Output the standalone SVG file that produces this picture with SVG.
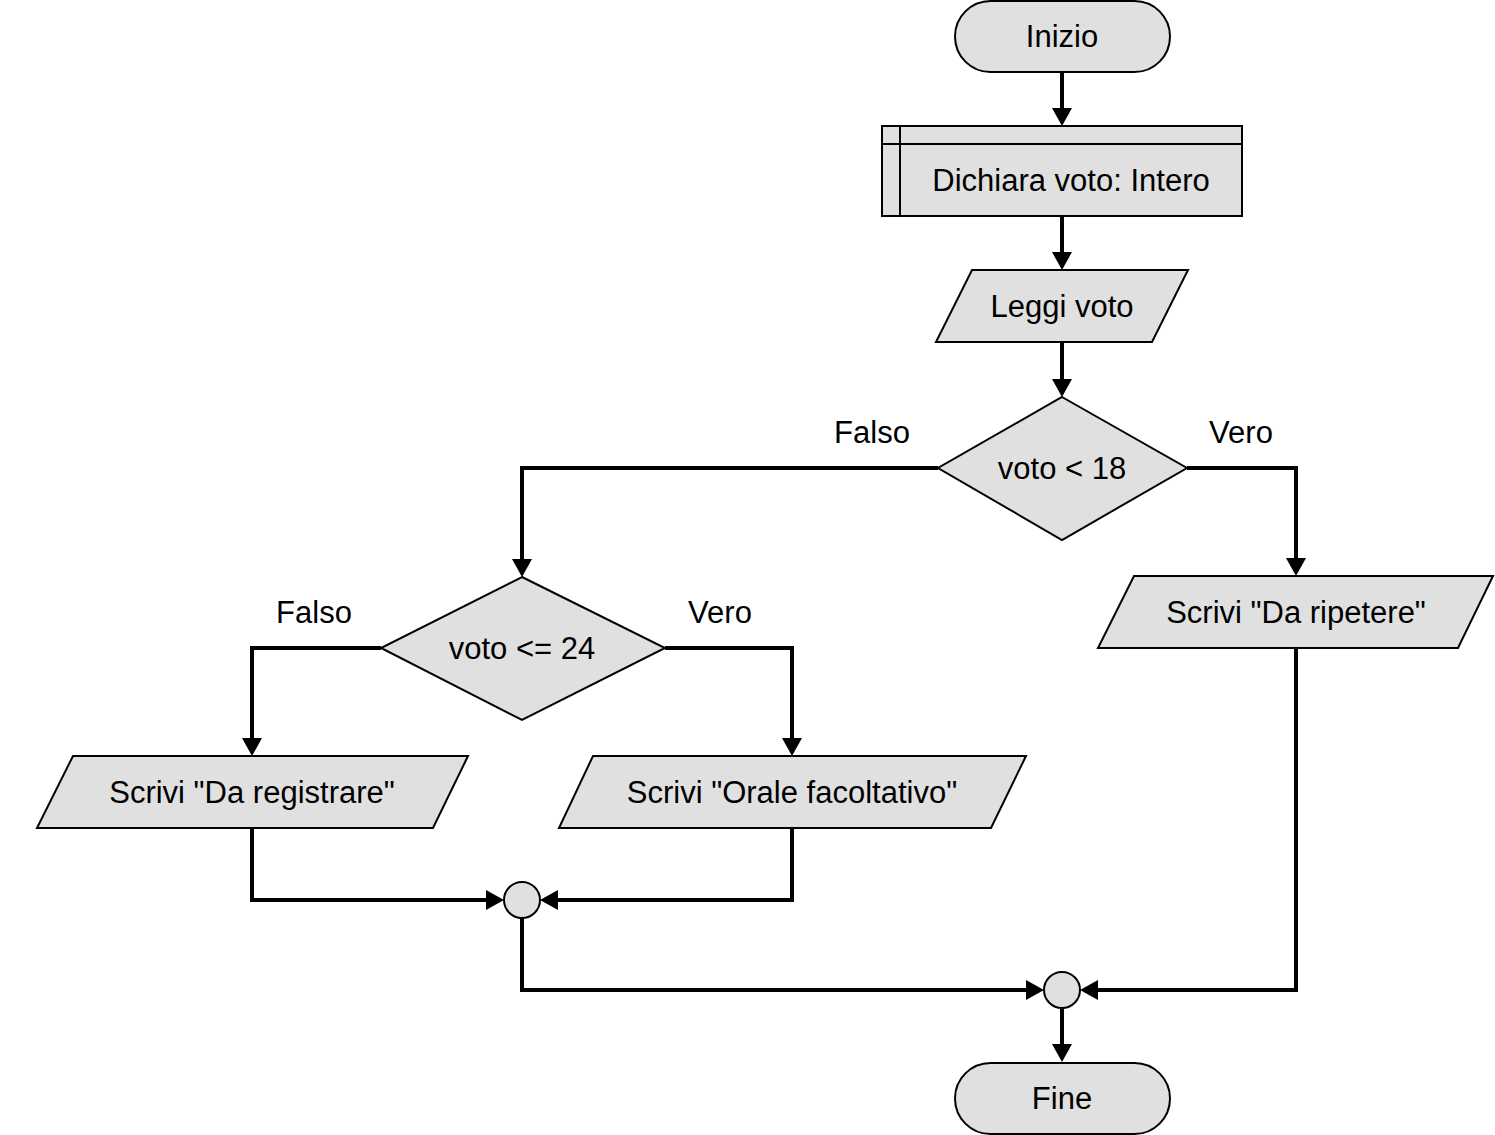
<svg xmlns="http://www.w3.org/2000/svg" width="1495" height="1135" viewBox="0 0 1495 1135">
<style>
.shape{fill:#e0e0e0;stroke:#000;stroke-width:2}
.inner{fill:none;stroke:#000;stroke-width:2}
.t{font-family:"Liberation Sans",Arial,sans-serif;font-size:31px;fill:#000;text-anchor:middle}
.conn{fill:none;stroke:#000;stroke-width:4;marker-end:url(#arr)}
.plain{fill:none;stroke:#000;stroke-width:4}
</style>
<defs>
<marker id="arr" markerUnits="userSpaceOnUse" markerWidth="18" markerHeight="20" refX="0" refY="10" orient="auto" overflow="visible">
<path d="M0,0 L18,10 L0,20 z" fill="#000"/>
</marker>
</defs>
<rect width="1495" height="1135" fill="#fff"/>
<g id="connectors">
<path class="conn" d="M1062,72 V108"/>
<path class="conn" d="M1062,216 V252"/>
<path class="conn" d="M1062,342 V379"/>
<path class="conn" d="M938,468 H522 V559"/>
<path class="conn" d="M1187,468 H1296 V558"/>
<path class="conn" d="M381,648 H252 V738"/>
<path class="conn" d="M665,648 H792 V738"/>
<path class="conn" d="M252,828 V900 H486"/>
<path class="conn" d="M792,828 V900 H558"/>
<path class="conn" d="M522,918 V990 H1026"/>
<path class="conn" d="M1296,648 V990 H1098"/>
<path class="conn" d="M1062,1008 V1044"/>
</g>
<g id="inizio">
<rect class="shape" x="955" y="1" width="215" height="71" rx="35.5"/>
<text class="t" x="1062" y="47">Inizio</text>
</g>
<g id="dichiara">
<rect class="shape" x="882" y="126" width="360" height="90"/>
<path class="inner" d="M900,126 V216 M882,144 H1242"/>
<text class="t" x="1071" y="191">Dichiara voto: Intero</text>
</g>
<g id="leggi">
<polygon class="shape" points="972,270 1188,270 1152,342 936,342"/>
<text class="t" x="1062" y="317">Leggi voto</text>
</g>
<g id="dec1">
<polygon class="shape" points="1062,397 1187,468 1062,540 938,468"/>
<text class="t" x="1062" y="479">voto &lt; 18</text>
</g>
<g id="dec2">
<polygon class="shape" points="522,577 665,648 522,720 381,648"/>
<text class="t" x="522" y="659">voto &lt;= 24</text>
</g>
<g id="ripetere">
<polygon class="shape" points="1134,576 1493,576 1458,648 1098,648"/>
<text class="t" x="1296" y="623">Scrivi "Da ripetere"</text>
</g>
<g id="registrare">
<polygon class="shape" points="73,756 468,756 433,828 37,828"/>
<text class="t" x="252" y="803">Scrivi "Da registrare"</text>
</g>
<g id="orale">
<polygon class="shape" points="593,756 1026,756 991,828 559,828"/>
<text class="t" x="792" y="803">Scrivi "Orale facoltativo"</text>
</g>
<g id="merge1">
<circle class="shape" cx="522" cy="900" r="18"/>
</g>
<g id="merge2">
<circle class="shape" cx="1062" cy="990" r="18"/>
</g>
<g id="fine">
<rect class="shape" x="955" y="1063" width="215" height="71" rx="35.5"/>
<text class="t" x="1062" y="1109">Fine</text>
</g>
<g id="labels">
<text class="t" x="872" y="443">Falso</text>
<text class="t" x="1241" y="443">Vero</text>
<text class="t" x="314" y="623">Falso</text>
<text class="t" x="720" y="623">Vero</text>
</g>
</svg>
